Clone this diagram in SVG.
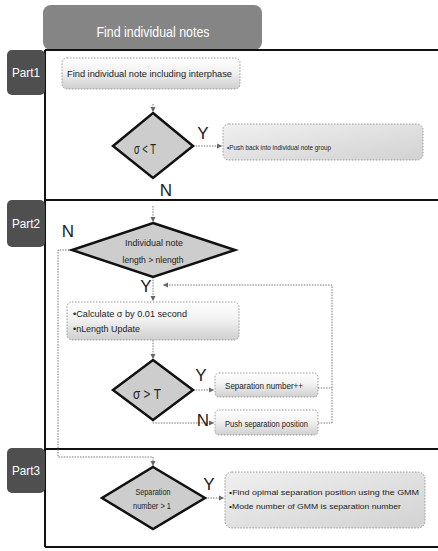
<svg xmlns="http://www.w3.org/2000/svg" width="438" height="551" viewBox="0 0 438 551">
<defs>
<linearGradient id="gBox" x1="0" y1="0" x2="0" y2="1">
<stop offset="0" stop-color="#ffffff"/>
<stop offset="0.45" stop-color="#f2f2f2"/>
<stop offset="1" stop-color="#cfcfcf"/>
</linearGradient>
<linearGradient id="gBox2" x1="0" y1="0" x2="1" y2="1">
<stop offset="0" stop-color="#f0f0f0"/>
<stop offset="1" stop-color="#d2d2d2"/>
</linearGradient>
<marker id="ah" markerWidth="6" markerHeight="6" refX="5" refY="3" orient="auto" markerUnits="userSpaceOnUse">
<path d="M0,0.5 L5,3 L0,5.5 Z" fill="#666"/>
</marker>
</defs>
<style>
.frame{stroke:#111;stroke-width:2;fill:none}
.tab{fill:#4f4f4f}
.tabt{font-family:"Liberation Sans Narrow","Liberation Sans",sans-serif;font-size:12px;fill:#fff}
.box{stroke:#999;stroke-width:1;stroke-dasharray:1.5 1.5;fill:url(#gBox)}
.box2{stroke:#999;stroke-width:1;stroke-dasharray:1.5 1.5;fill:url(#gBox2)}
.dia{fill:#cdcdcd;stroke:#111;stroke-width:2.5;stroke-linejoin:miter}
.t{font-family:"Liberation Sans Narrow","Liberation Sans",sans-serif;font-size:9px;fill:#222}
.s{font-size:8px}
.big{font-family:"Liberation Sans Narrow","Liberation Sans",sans-serif;font-size:15px;fill:#222}
.lbl{font-family:"Liberation Sans Narrow","Liberation Sans",sans-serif;font-size:17px;fill:#222}
.c{stroke:#777;stroke-width:1;stroke-dasharray:1.5 1.2;fill:none}
</style>

<g id="title">
<rect x="43" y="5" width="219" height="45" rx="8" fill="#858585"/>
<text x="153" y="37" text-anchor="middle" class="tabt" style="font-size:14px" textLength="113" lengthAdjust="spacingAndGlyphs">Find individual notes</text>
</g>

<g id="frame">
<line class="frame" x1="45" y1="50" x2="438" y2="50"/>
<line class="frame" x1="45" y1="200" x2="438" y2="200"/>
<line class="frame" x1="45" y1="449" x2="438" y2="449"/>
<line class="frame" x1="45" y1="547" x2="438" y2="547"/>
<line class="frame" x1="45" y1="50" x2="45" y2="547"/>
</g>

<g id="part1">
<rect class="tab" x="7" y="50" width="38" height="45" rx="5"/>
<text class="tabt" x="26" y="77" text-anchor="middle" textLength="28" lengthAdjust="spacingAndGlyphs">Part1</text>
</g>
<g id="part2">
<rect class="tab" x="7" y="200" width="38" height="47" rx="5"/>
<text class="tabt" x="26" y="228" text-anchor="middle" textLength="28" lengthAdjust="spacingAndGlyphs">Part2</text>
</g>
<g id="part3">
<rect class="tab" x="7" y="448" width="38" height="45" rx="5"/>
<text class="tabt" x="26" y="475" text-anchor="middle" textLength="28" lengthAdjust="spacingAndGlyphs">Part3</text>
</g>

<g id="connectors">
<line class="c" x1="153" y1="104" x2="153" y2="112" marker-end="url(#ah)"/>
<line class="c" x1="193" y1="146" x2="222" y2="146" marker-end="url(#ah)"/>
<line class="c" x1="153" y1="206" x2="153" y2="222" marker-end="url(#ah)"/>
<line class="c" x1="153" y1="277" x2="153" y2="301" marker-end="url(#ah)"/>
<polyline class="c" points="332,423 332,285 163,285" marker-end="url(#ah)"/>
<line class="c" x1="153" y1="340" x2="153" y2="359" marker-end="url(#ah)"/>
<line class="c" x1="193" y1="390" x2="214" y2="390" marker-end="url(#ah)"/>
<polyline class="c" points="153,420 153,423 214,423" marker-end="url(#ah)"/>
<line class="c" x1="318" y1="388" x2="332" y2="388"/>
<line class="c" x1="318" y1="423" x2="332" y2="423"/>
<polyline class="c" points="72,250 58,250 58,457 153,457 153,466" marker-end="url(#ah)"/>
<line class="c" x1="205" y1="498" x2="224" y2="498" marker-end="url(#ah)"/>
</g>

<g id="n_box1">
<rect class="box" x="62" y="58" width="178" height="31" rx="5"/>
<text class="t" x="67" y="77" textLength="165" lengthAdjust="spacingAndGlyphs">Find individual note including interphase</text>
</g>

<g id="n_dia1">
<polygon class="dia" points="153,113 193,146 153,178 113,146"/>
<text class="big" x="145" y="154" text-anchor="middle" textLength="22" lengthAdjust="spacingAndGlyphs">σ &lt; T</text>
</g>
<g id="l_y1"><text class="lbl" x="203" y="139" text-anchor="middle">Y</text></g>
<g id="l_n1"><text class="lbl" x="166" y="196" text-anchor="middle">N</text></g>

<g id="n_box2">
<rect class="box2" x="223" y="124" width="200" height="36" rx="6"/>
<text class="t s" x="227" y="150" textLength="104" lengthAdjust="spacingAndGlyphs">•Push back into individual note group</text>
</g>

<g id="n_dia2">
<polygon class="dia" points="153,223 235,250 153,277 72,250"/>
<text class="t" x="154" y="246" text-anchor="middle" textLength="58" lengthAdjust="spacingAndGlyphs">Individual note</text>
<text class="t" x="153" y="263" text-anchor="middle" textLength="61" lengthAdjust="spacingAndGlyphs">length &gt; nlength</text>
</g>
<g id="l_n2"><text class="lbl" x="68" y="237" text-anchor="middle">N</text></g>
<g id="l_y2"><text class="lbl" x="146" y="292" text-anchor="middle">Y</text></g>

<g id="n_box3">
<rect class="box" x="67" y="302" width="172" height="38" rx="5"/>
<text class="t" x="73" y="317" textLength="114" lengthAdjust="spacingAndGlyphs">•Calculate  σ by 0.01 second</text>
<text class="t" x="73" y="332" textLength="67" lengthAdjust="spacingAndGlyphs">•nLength Update</text>
</g>

<g id="n_dia3">
<polygon class="dia" points="153,360 193,390 153,420 113,390"/>
<text class="big" x="147" y="399" text-anchor="middle" textLength="28" lengthAdjust="spacingAndGlyphs">σ &gt; T</text>
</g>
<g id="l_y3"><text class="lbl" x="201" y="381" text-anchor="middle">Y</text></g>
<g id="l_n3"><text class="lbl" x="203" y="426" text-anchor="middle">N</text></g>

<g id="n_box4">
<rect class="box" x="215" y="373" width="103" height="24" rx="4"/>
<text class="t" x="225" y="389" textLength="78" lengthAdjust="spacingAndGlyphs">Separation number++</text>
</g>
<g id="n_box5">
<rect class="box" x="215" y="410" width="103" height="25" rx="4"/>
<text class="t" x="225" y="427" textLength="83" lengthAdjust="spacingAndGlyphs">Push separation position</text>
</g>

<g id="n_dia4">
<polygon class="dia" points="153,467 205,498 153,529 102,498"/>
<text class="t" x="153" y="495" text-anchor="middle" textLength="35" lengthAdjust="spacingAndGlyphs">Separation</text>
<text class="t" x="152" y="509" text-anchor="middle" textLength="38" lengthAdjust="spacingAndGlyphs">number &gt; 1</text>
</g>
<g id="l_y4"><text class="lbl" x="209" y="490" text-anchor="middle">Y</text></g>

<g id="n_box6">
<rect class="box2" x="225" y="472" width="200" height="56" rx="7"/>
<text class="t s" x="229" y="495" textLength="190" lengthAdjust="spacingAndGlyphs">•Find opimal separation position using the GMM</text>
<text class="t s" x="229" y="509" textLength="172" lengthAdjust="spacingAndGlyphs">•Mode number of GMM is separation number</text>
</g>
</svg>
